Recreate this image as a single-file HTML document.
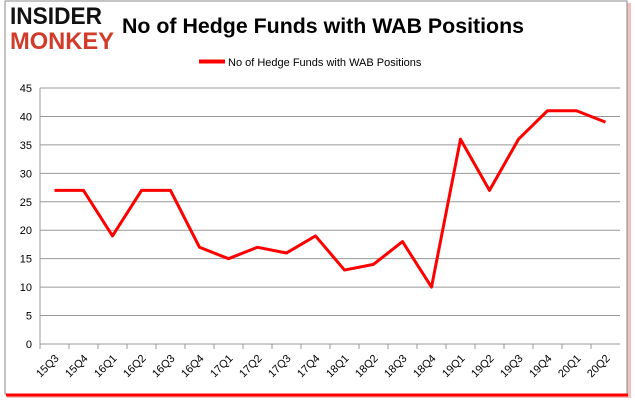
<!DOCTYPE html>
<html><head><meta charset="utf-8"><style>
body{margin:0;background:#fff;width:635px;height:405px;overflow:hidden;font-family:"Liberation Sans",sans-serif}
</style></head><body>
<svg width="635" height="405" xmlns="http://www.w3.org/2000/svg">
<rect x="7" y="3" width="624" height="395" fill="#c00" opacity="0.25"/>
<rect x="5" y="1" width="622" height="393" fill="#fff" stroke="#888" stroke-width="1"/>
<line x1="6" y1="395" x2="628" y2="395" stroke="#f00" stroke-width="3"/>
<text x="10" y="24" font-size="24" font-weight="bold" fill="#111" textLength="92" lengthAdjust="spacingAndGlyphs">INSIDER</text>
<text x="10" y="49" font-size="24" font-weight="bold" fill="#d13b2a" textLength="104" lengthAdjust="spacingAndGlyphs">MONKEY</text>
<text x="122" y="33" font-size="21" font-weight="bold" fill="#000" textLength="402" lengthAdjust="spacingAndGlyphs">No of Hedge Funds with WAB Positions</text>
<line x1="199" y1="61.5" x2="225" y2="61.5" stroke="#f00" stroke-width="4"/>
<text x="228" y="66" font-size="11" fill="#000">No of Hedge Funds with WAB Positions</text>
<g id="grid"></g><g id="axes"></g><g id="series"></g>
</svg>
<script>
const categories=["15Q3","15Q4","16Q1","16Q2","16Q3","16Q4","17Q1","17Q2","17Q3","17Q4","18Q1","18Q2","18Q3","18Q4","19Q1","19Q2","19Q3","19Q4","20Q1","20Q2"];
const values=[27,27,19,27,27,17,15,17,16,19,13,14,18,10,36,27,36,41,41,39];
const yTicks=[0,5,10,15,20,25,30,35,40,45];
const NS="http://www.w3.org/2000/svg";
const x0=40,step=29,yZero=344,yTop=88,yMax=45;
function xs(i){return x0+step/2+step*i;}
function ys(v){return yZero-(yZero-yTop)*v/yMax;}
function mk(t,a,p){const e=document.createElementNS(NS,t);for(const k in a)e.setAttribute(k,a[k]);document.getElementById(p).appendChild(e);return e;}
yTicks.forEach(v=>{
 const g=mk("line",{x1:x0,x2:x0+step*categories.length,y1:ys(v),y2:ys(v),stroke:"#999","stroke-width":1},"grid");
 
 
 const t=mk("text",{x:x0-8,y:ys(v)+4,"font-size":11,"text-anchor":"end",fill:"#000"},"axes");
 t.textContent=v;
 
 
});
const ya=mk("line",{x1:x0,x2:x0,y1:yTop,y2:yZero+4,stroke:"#999"},"axes");


categories.forEach((c,i)=>{
 const tk=mk("line",{x1:x0+step*i,x2:x0+step*i,y1:yZero,y2:yZero+5,stroke:"#999"},"axes");
 
 
 const cx=xs(i)+5,cy=yZero+15;
 const t=mk("text",{x:cx,y:cy,"font-size":11,"text-anchor":"end",fill:"#000",transform:`rotate(-45 ${cx} ${cy})`},"axes");
 t.textContent=c;
 
 
});
const pl=mk("polyline",{points:values.map((v,i)=>xs(i)+","+ys(v)).join(" "),fill:"none",stroke:"#f00","stroke-width":3,"stroke-linejoin":"round"},"series");


</script>
</body></html>
